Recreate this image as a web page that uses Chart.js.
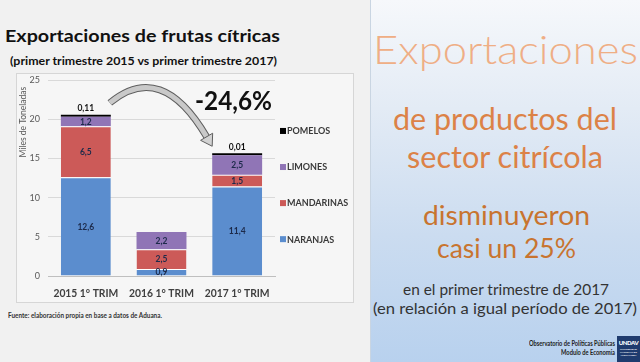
<!DOCTYPE html>
<html lang="es">
<head>
<meta charset="utf-8">
<title>Exportaciones de frutas cítricas</title>
<script src="https://cdn.jsdelivr.net/npm/chart.js@4.4.0/dist/chart.umd.min.js"></script>
<style>
  html, body { margin: 0; padding: 0; }
  body {
    width: 640px; height: 362px; position: relative; overflow: hidden;
    background: #f1f1f1; font-family: Lato, sans-serif;
  }
  .t { position: absolute; white-space: nowrap; line-height: 1; transform-origin: 0 0; }
  #panel {
    position: absolute; left: 370px; top: 0; width: 270px; height: 362px;
    box-sizing: border-box; border-left: 1px solid #c9d5e2;
    background: linear-gradient(#f6f8fb 0%, #e3ebf5 30%, #cbdcf0 65%, #b8d1ee 100%);
  }
  #box {
    position: absolute; left: 16px; top: 73px; width: 338px; height: 230px;
    box-sizing: border-box; border: 1px solid #d6d6d6; background: #f6f6f6;
  }
  #chartWrap { position: absolute; left: 17px; top: 74px; width: 335px; height: 227px; }
  #logo {
    position: absolute; left: 617px; top: 336px; width: 23px; height: 26px;
    background: #1f3b6e; color: #fff; text-align: center; overflow: hidden;
  }
  #logo b { display: block; font: 900 6px Lato; margin-top: 3px; letter-spacing: -0.4px; }
  #logo i { display: block; font: normal 700 2.5px Lato; line-height: 3px; margin-top: 2px; }
</style>
</head>
<body>

<div class="t" data-x="5" data-b="40" data-w="275" style="font:700 17px Lato;color:#111">Exportaciones de frutas cítricas</div>
<div class="t" data-x="10" data-b="64" data-w="267" style="font:700 11px Lato;color:#111">(primer trimestre 2015 vs primer trimestre 2017)</div>

<div id="box"></div>
<div id="chartWrap"><canvas id="chart" width="335" height="227"></canvas></div>

<div class="t" data-x="195" data-b="107" data-w="77" style="font:700 27px Lato;color:#111">-24,6%</div>
<div class="t" data-x="8" data-b="318" data-w="154" style="font:700 6.5px Lato;color:#333">Fuente: elaboración propia en base a datos de Aduana.</div>

<div id="panel"></div>
<div class="t" data-c="505" data-b="61" data-w="265" style="font:300 39px Lato;color:#efae85">Exportaciones</div>
<div class="t" data-c="505" data-b="127" data-w="224" style="font:400 30px Lato;color:#dc8247">de productos del</div>
<div class="t" data-c="505" data-b="165" data-w="196" style="font:400 30px Lato;color:#dc8247">sector citrícola</div>
<div class="t" data-c="506" data-b="222" data-w="167" style="font:400 27px Lato;color:#c8742f">disminuyeron</div>
<div class="t" data-c="506" data-b="255" data-w="139" style="font:400 27px Lato;color:#c8742f">casi un 25%</div>
<div class="t" data-c="506" data-b="293" data-w="206" style="font:400 16px Lato;color:#333">en el primer trimestre de 2017</div>
<div class="t" data-c="505" data-b="312" data-w="264" style="font:400 16px Lato;color:#333">(en relación a igual período de 2017)</div>
<div class="t" data-r="615" data-b="346" data-w="86" style="font:700 6.5px Lato;color:#222">Observatorio de Políticas Públicas</div>
<div class="t" data-r="615" data-b="355" data-w="54" style="font:700 6.5px Lato;color:#222">Modulo de Economía</div>
<div id="logo"><b>UNDAV</b><i>UNIVERSIDAD<br>NACIONAL DE<br>AVELLANEDA</i></div>

<script>
// Exportaciones de frutas cítricas, miles de toneladas, primer trimestre
const CATEGORIES = ['2015 1° TRIM', '2016 1° TRIM', '2017 1° TRIM'];
const NARANJAS   = [12.6, 0.9, 11.4];
const MANDARINAS = [6.5, 2.5, 1.5];
const LIMONES    = [1.2, 2.2, 2.5];
const POMELOS    = [0.11, null, 0.01];
const Y_MAX  = 25;
const Y_STEP = 5;
const Y_TITLE = 'Miles de Toneladas';

// ── TEXT PLACEMENT ────────────────────────────────
// positions each text by its baseline and squeezes it to the reference width
function placeText() {
  document.querySelectorAll('.t').forEach(el => {
    const fs = parseFloat(getComputedStyle(el).fontSize);
    const natural = el.getBoundingClientRect().width;
    const w = el.dataset.w ? +el.dataset.w : natural;
    let left;
    if (el.dataset.c) left = +el.dataset.c - w / 2;
    else if (el.dataset.r) left = +el.dataset.r - w;
    else left = +el.dataset.x;
    el.style.left = left + 'px';
    el.style.top = (+el.dataset.b - 0.887 * fs) + 'px';
    el.style.transform = `scaleX(${w / natural})`;
  });
}

// ── PLUGINS ───────────────────────────────────────
const fmt = v => String(v).replace('.', ',');

const valueLabels = {
  id: 'valueLabels',
  afterDatasetsDraw(chart) {
    const ctx = chart.ctx;
    ctx.save();
    ctx.font = '700 8.5px Lato';
    ctx.textAlign = 'center';
    chart.data.datasets.forEach((ds, i) => {
      chart.getDatasetMeta(i).data.forEach((bar, j) => {
        const v = ds.data[j];
        if (v == null) return;
        if (ds.label === 'POMELOS') {
          ctx.fillStyle = '#111';
          ctx.textBaseline = 'bottom';
          ctx.fillText(fmt(v), bar.x, bar.y - 2);
        } else {
          ctx.fillStyle = '#1c2a4a';
          ctx.textBaseline = 'middle';
          ctx.fillText(fmt(v), bar.x, (bar.y + bar.base) / 2 + 0.5);
        }
      });
    });
    ctx.restore();
  }
};

// category labels drawn narrow (condensed like the original font), plus the y title
const axisText = {
  id: 'axisText',
  afterDraw(chart) {
    const { ctx, chartArea: a } = chart;
    const x = chart.scales.x;
    ctx.save();
    ctx.font = '700 12px Lato';
    ctx.fillStyle = '#404040';
    ctx.textAlign = 'center';
    ctx.textBaseline = 'middle';
    chart.data.labels.forEach((lab, i) => {
      ctx.save();
      ctx.translate(x.getPixelForValue(i), a.bottom + 17);
      ctx.scale(0.86, 1);
      ctx.fillText(lab, 0, 0);
      ctx.restore();
    });
    ctx.translate(6, a.top + a.height * 0.215);
    ctx.rotate(-Math.PI / 2);
    ctx.font = '400 8.5px Lato';
    ctx.fillStyle = '#595959';
    ctx.fillText(Y_TITLE, 0, 0);
    ctx.restore();
  }
};

const sideLegend = {
  id: 'sideLegend',
  afterDraw(chart) {
    const { ctx, chartArea: a } = chart;
    const items = chart.data.datasets.slice().reverse();
    ctx.save();
    ctx.font = '700 9px Lato';
    ctx.textBaseline = 'middle';
    ctx.textAlign = 'left';
    items.forEach((ds, i) => {
      const y = a.top + a.height * (0.26 + i * 0.184);
      ctx.fillStyle = ds.backgroundColor;
      ctx.fillRect(a.right + 5, y - 3, 6, 6);
      ctx.fillStyle = '#3a3a3a';
      ctx.fillText(ds.label, a.right + 12, y + 0.5);
    });
    ctx.restore();
  }
};

// curved arrow from the 2015 bar to the 2017 bar
const dropArrow = {
  id: 'dropArrow',
  afterDatasetsDraw(chart) {
    const ctx = chart.ctx;
    const meta = chart.getDatasetMeta(chart.data.datasets.length - 1);
    const a = meta.data[0], b = meta.data[2];
    const S = { x: a.x + a.width / 2 - 1, y: a.y - 12 };
    const T = { x: b.x - b.width / 2, y: b.y - 7 };
    const C = { x: (a.x + b.x) / 2, y: a.y - 55 };
    const dx = T.x - C.x, dy = T.y - C.y, len = Math.hypot(dx, dy);
    const ux = dx / len, uy = dy / len;
    const B = { x: T.x - ux * 11, y: T.y - uy * 11 };

    ctx.save();
    ctx.lineCap = 'butt';
    ctx.beginPath();
    ctx.moveTo(S.x, S.y);
    ctx.quadraticCurveTo(C.x, C.y, B.x, B.y);
    ctx.strokeStyle = '#5e5e5e';
    ctx.lineWidth = 7;
    ctx.stroke();
    ctx.strokeStyle = '#c9c9c9';
    ctx.lineWidth = 5;
    ctx.stroke();

    ctx.beginPath();
    ctx.moveTo(T.x, T.y);
    ctx.lineTo(B.x - uy * 7, B.y + ux * 7);
    ctx.lineTo(B.x + uy * 7, B.y - ux * 7);
    ctx.closePath();
    ctx.fillStyle = '#d2d2d2';
    ctx.fill();
    ctx.strokeStyle = '#5e5e5e';
    ctx.lineWidth = 1;
    ctx.stroke();
    ctx.restore();
  }
};

// ── CHART ─────────────────────────────────────────
Chart.defaults.font.family = 'Lato';

const topBorder = { top: 1, right: 0, bottom: 0, left: 0 };

placeText();

new Chart(document.getElementById('chart'), {
  type: 'bar',
  data: {
    labels: CATEGORIES,
    datasets: [
      { label: 'NARANJAS',   data: NARANJAS,   backgroundColor: '#5b8dce', borderColor: '#fff', borderWidth: topBorder, borderSkipped: false },
      { label: 'MANDARINAS', data: MANDARINAS, backgroundColor: '#cc5a58', borderColor: '#fff', borderWidth: topBorder, borderSkipped: false },
      { label: 'LIMONES',    data: LIMONES,    backgroundColor: '#9075b6', borderWidth: 0 },
      { label: 'POMELOS',    data: POMELOS,    backgroundColor: '#000',    borderWidth: 0, minBarLength: 2 }
    ]
  },
  options: {
    responsive: false,
    animation: false,
    categoryPercentage: 1,
    barPercentage: 0.66,
    layout: { padding: { top: 6, right: 77, bottom: 0, left: 0 } },
    plugins: { legend: { display: false }, tooltip: { enabled: false } },
    scales: {
      x: {
        stacked: true,
        grid: { display: false, drawTicks: false },
        border: { display: true, color: '#bfbfbf' },
        ticks: { display: false },
        afterFit: s => { s.height = 25; s.paddingLeft = 0; s.paddingRight = 0; }
      },
      y: {
        stacked: true,
        min: 0,
        max: Y_MAX,
        grid: { color: '#d9d9d9', drawTicks: false },
        border: { display: false },
        ticks: { stepSize: Y_STEP, color: '#595959', font: { size: 9 }, padding: 8 },
        afterFit: s => { s.width = 31; s.paddingTop = 0; s.paddingBottom = 0; }
      }
    }
  },
  plugins: [valueLabels, dropArrow, sideLegend, axisText]
});
</script>
</body>
</html>
